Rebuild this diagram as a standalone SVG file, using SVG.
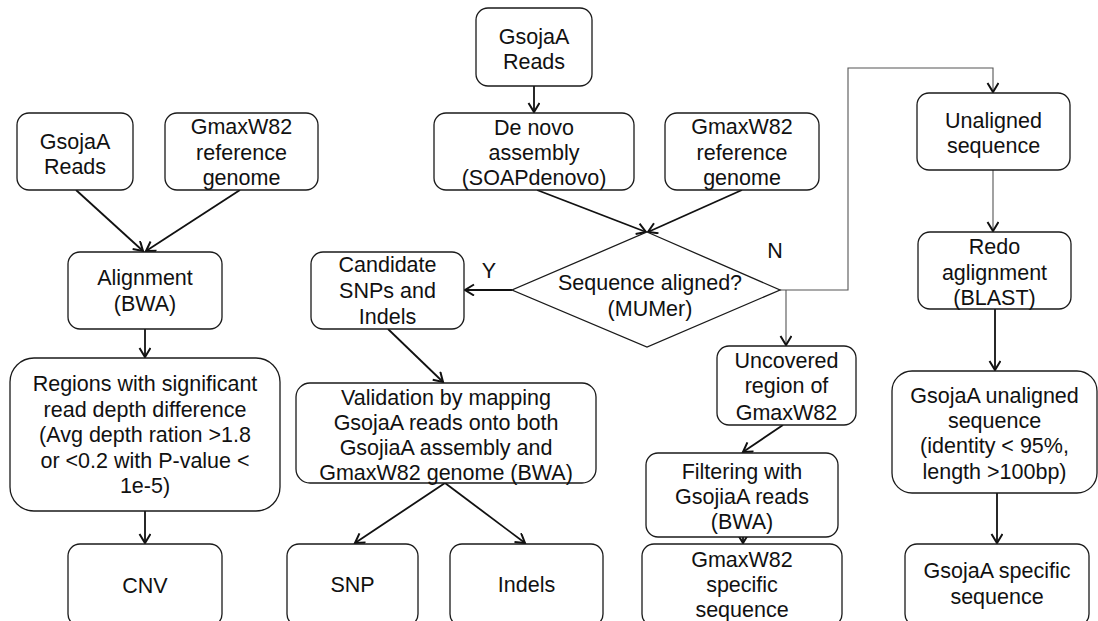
<svg xmlns="http://www.w3.org/2000/svg" width="1098" height="621" viewBox="0 0 1098 621">
<style>
.box{fill:#fff;stroke:#1a1a1a;stroke-width:1.3}
text{font-family:"Liberation Sans",Arial,sans-serif;font-size:21.5px;fill:#111;text-anchor:middle}
.c{fill:none;stroke:#111;stroke-width:1.8}
.g{fill:none;stroke:#555;stroke-width:1.1}
</style>
<defs>
<marker id="a" markerUnits="userSpaceOnUse" markerWidth="14" markerHeight="14" refX="11" refY="6" orient="auto">
<path d="M2,0.5 L11,6 L2,11.5" fill="none" stroke="#111" stroke-width="2"/>
</marker>
</defs>
<rect width="1098" height="621" fill="#fff"/>
<g id="connectors">
<line class="c" x1="76" y1="190" x2="143" y2="251" marker-end="url(#a)"/>
<line class="c" x1="240" y1="190" x2="146" y2="251" marker-end="url(#a)"/>
<line class="c" x1="145" y1="329" x2="145" y2="357" marker-end="url(#a)"/>
<line class="c" x1="145" y1="511" x2="145" y2="543" marker-end="url(#a)"/>
<line class="c" x1="534" y1="86" x2="534" y2="112" marker-end="url(#a)"/>
<line class="c" x1="537" y1="190" x2="646" y2="232" marker-end="url(#a)"/>
<line class="c" x1="742" y1="190" x2="648" y2="232" marker-end="url(#a)"/>
<line class="c" x1="512" y1="290" x2="465" y2="290" marker-end="url(#a)"/>
<line class="c" x1="388" y1="329" x2="443" y2="382" marker-end="url(#a)"/>
<line class="c" x1="445" y1="483" x2="355" y2="543" marker-end="url(#a)"/>
<line class="c" x1="445" y1="483" x2="525" y2="543" marker-end="url(#a)"/>
<polyline class="g" points="780,290 848,290 848,68 993,68 993,92" marker-end="url(#a)"/>
<line class="g" x1="786" y1="290" x2="786" y2="345" marker-end="url(#a)"/>
<line class="g" x1="993" y1="170" x2="993" y2="231" marker-end="url(#a)"/>
<line class="c" x1="783" y1="425" x2="743" y2="452" marker-end="url(#a)"/>
<line class="c" x1="743" y1="537" x2="743" y2="543" marker-end="url(#a)"/>
<line class="c" x1="995" y1="309" x2="995" y2="370" marker-end="url(#a)"/>
<line class="c" x1="997" y1="493" x2="997" y2="543" marker-end="url(#a)"/>
<text x="489" y="278">Y</text>
<text x="775" y="258">N</text>
</g>
<g id="n1"><rect class="box" x="17" y="113" width="116" height="77" rx="12"/><text x="75" y="149">GsojaA</text><text x="75" y="174">Reads</text></g>
<g id="n2"><rect class="box" x="165" y="113" width="153" height="77" rx="12"/><text x="241.5" y="134">GmaxW82</text><text x="241.5" y="159.5">reference</text><text x="241.5" y="185">genome</text></g>
<g id="n3"><rect class="box" x="68" y="252" width="154" height="77" rx="12"/><text x="145" y="285">Alignment</text><text x="145" y="311">(BWA)</text></g>
<g id="n4"><rect class="box" x="10" y="358" width="270" height="153" rx="24"/><text x="145" y="391">Regions with significant</text><text x="145" y="416.5">read depth difference</text><text x="145" y="442">(Avg depth ration &gt;1.8</text><text x="145" y="467.5">or &lt;0.2 with P-value &lt;</text><text x="145" y="493">1e-5)</text></g>
<g id="n5"><rect class="box" x="68" y="544" width="154" height="82" rx="12"/><text x="145" y="593">CNV</text></g>
<g id="n6"><rect class="box" x="476" y="8" width="116" height="78" rx="12"/><text x="534" y="43.5">GsojaA</text><text x="534" y="69">Reads</text></g>
<g id="n7"><rect class="box" x="434" y="113" width="200" height="77" rx="12"/><text x="534" y="135">De novo</text><text x="534" y="160">assembly</text><text x="534" y="185">(SOAPdenovo)</text></g>
<g id="n8"><rect class="box" x="665" y="113" width="154" height="77" rx="12"/><text x="742" y="134">GmaxW82</text><text x="742" y="159.5">reference</text><text x="742" y="185">genome</text></g>
<g id="n9"><polygon class="box" stroke-width="1.6" points="647,232 780,290 647,347 512,290"/><text x="650" y="290">Sequence aligned?</text><text x="650" y="316">(MUMer)</text></g>
<g id="n10"><rect class="box" x="311" y="252" width="153" height="77" rx="12"/><text x="387.5" y="272">Candidate</text><text x="387.5" y="298">SNPs and</text><text x="387.5" y="324">Indels</text></g>
<g id="n11"><rect class="box" x="296" y="383" width="300" height="100" rx="14"/><text x="446" y="405">Validation by mapping</text><text x="446" y="430">GsojaA reads onto both</text><text x="446" y="455">GsojiaA assembly and</text><text x="446" y="480">GmaxW82 genome (BWA)</text></g>
<g id="n12"><rect class="box" x="287" y="544" width="131" height="82" rx="12"/><text x="352.5" y="592">SNP</text></g>
<g id="n13"><rect class="box" x="450" y="544" width="153" height="82" rx="12"/><text x="526.5" y="592">Indels</text></g>
<g id="n14"><rect class="box" x="917" y="93" width="153" height="77" rx="12"/><text x="993.5" y="128">Unaligned</text><text x="993.5" y="153">sequence</text></g>
<g id="n15"><rect class="box" x="918" y="232" width="153" height="77" rx="12"/><text x="994.5" y="254">Redo</text><text x="994.5" y="280">aglignment</text><text x="994.5" y="305">(BLAST)</text></g>
<g id="n16"><rect class="box" x="892" y="371" width="205" height="122" rx="20"/><text x="994.5" y="403">GsojaA unaligned</text><text x="994.5" y="428">sequence</text><text x="994.5" y="453">(identity &lt; 95%,</text><text x="994.5" y="479">length &gt;100bp)</text></g>
<g id="n17"><rect class="box" x="905" y="544" width="184" height="82" rx="12"/><text x="997" y="578">GsojaA specific</text><text x="997" y="604">sequence</text></g>
<g id="n18"><rect class="box" x="717" y="346" width="139" height="79" rx="12"/><text x="786.5" y="368">Uncovered</text><text x="786.5" y="393">region of</text><text x="786.5" y="420">GmaxW82</text></g>
<g id="n19"><rect class="box" x="646" y="453" width="192" height="84" rx="12"/><text x="742" y="479">Filtering with</text><text x="742" y="504">GsojiaA reads</text><text x="742" y="529">(BWA)</text></g>
<g id="n20"><rect class="box" x="642" y="544" width="200" height="82" rx="12"/><text x="742" y="567">GmaxW82</text><text x="742" y="592">specific</text><text x="742" y="617">sequence</text></g>
</svg>
